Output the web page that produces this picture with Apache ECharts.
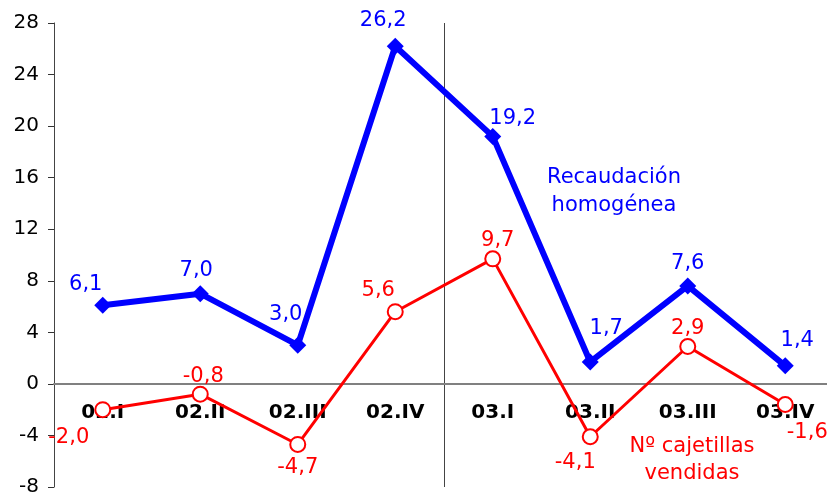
<!DOCTYPE html>
<html><head><meta charset="utf-8">
<script src="https://cdn.jsdelivr.net/npm/echarts@6/dist/echarts.min.js"></script>
<style>html,body{margin:0;padding:0;background:#fff}#c{width:827px;height:492px}</style>
</head><body><div id="c"></div>
<script>
const categories = ['02.I','02.II','02.III','02.IV','03.I','03.II','03.III','03.IV'];
const recaudacion = [6.1, 7.0, 3.0, 26.2, 19.2, 1.7, 7.6, 1.4];
const cajetillas = [-2.0, -0.8, -4.7, 5.6, 9.7, -4.1, 2.9, -1.6];
const yTicks = {min: -8, max: 28, interval: 4};

const blueOff = [[-17,3],[-4,1],[-12,-7],[-12,-2],[20,6],[16,-9],[0,2],[12,-1]];
const redOff = [[-34,52],[3,6],[0,47],[-17,3],[5,6],[-15,50],[0,6],[22,52]];
const FONT = 'DejaVu Sans';
const fmt = v => v.toFixed(1).replace('.', ',');

function build(vals, offs, color) {
  return vals.map((v, i) => ({
    value: v,
    label: {show: true, position: 'top', offset: offs[i], formatter: fmt(v),
      color: color, fontSize: 21, fontFamily: FONT}
  }));
}

const chart = echarts.init(document.getElementById('c'), null, {renderer: 'canvas'});
const option = {
  animation: false,
  grid: {left: 54, right: -7, top: 23, bottom: 5, containLabel: false, outerBoundsMode: 'none'},
  xAxis: {
    type: 'category', data: categories, boundaryGap: true, offset: 0,
    axisLine: {onZero: false, lineStyle: {color: '#808080', width: 2}},
    axisTick: {show: false},
    axisLabel: {margin: 19, color: '#000', fontWeight: 'bold', fontSize: 20, fontFamily: FONT},
    splitLine: {show: true, interval: 3, lineStyle: {color: '#444', width: 1}},
    z: 1
  },
  yAxis: {
    type: 'value', min: yTicks.min, max: yTicks.max, interval: yTicks.interval,
    axisLine: {show: true, onZero: false, lineStyle: {color: '#333', width: 1}},
    axisTick: {show: true, length: 6, lineStyle: {color: '#333'}},
    axisLabel: {margin: 15, color: '#000', fontSize: 20, fontFamily: FONT},
    splitLine: {show: false}
  },
  series: [
    {
      name: 'Nº cajetillas vendidas', type: 'line', data: build(cajetillas, redOff, '#ff0000'),
      symbol: 'circle', symbolSize: 15, z: 3,
      lineStyle: {color: '#ff0000', width: 3},
      itemStyle: {color: '#ffffff', borderColor: '#ff0000', borderWidth: 2}
    },
    {
      name: 'Recaudación homogénea', type: 'line', data: build(recaudacion, blueOff, '#0000ff'),
      symbol: 'diamond', symbolSize: 17, z: 4,
      lineStyle: {color: '#0000ff', width: 6},
      itemStyle: {color: '#0000ff'}
    }
  ],
  graphic: [
    {type: 'text', x: 614, y: 192, z: 10, style: {text: 'Recaudación\nhomogénea', fill: '#0000ff',
      font: '21px "DejaVu Sans"', lineHeight: 28, align: 'center', verticalAlign: 'middle'}},
    {type: 'text', x: 692, y: 460, z: 10, style: {text: 'Nº cajetillas\nvendidas', fill: '#ff0000',
      font: '21px "DejaVu Sans"', lineHeight: 27, align: 'center', verticalAlign: 'middle'}}
  ]
};
chart.setOption(option);
// place the category axis on the zero line of the value axis
const zeroPx = chart.convertToPixel({yAxisIndex: 0}, 0);
const bottomPx = chart.convertToPixel({yAxisIndex: 0}, yTicks.min);
chart.setOption({xAxis: {offset: -(bottomPx - zeroPx)}});
</script></body></html>
